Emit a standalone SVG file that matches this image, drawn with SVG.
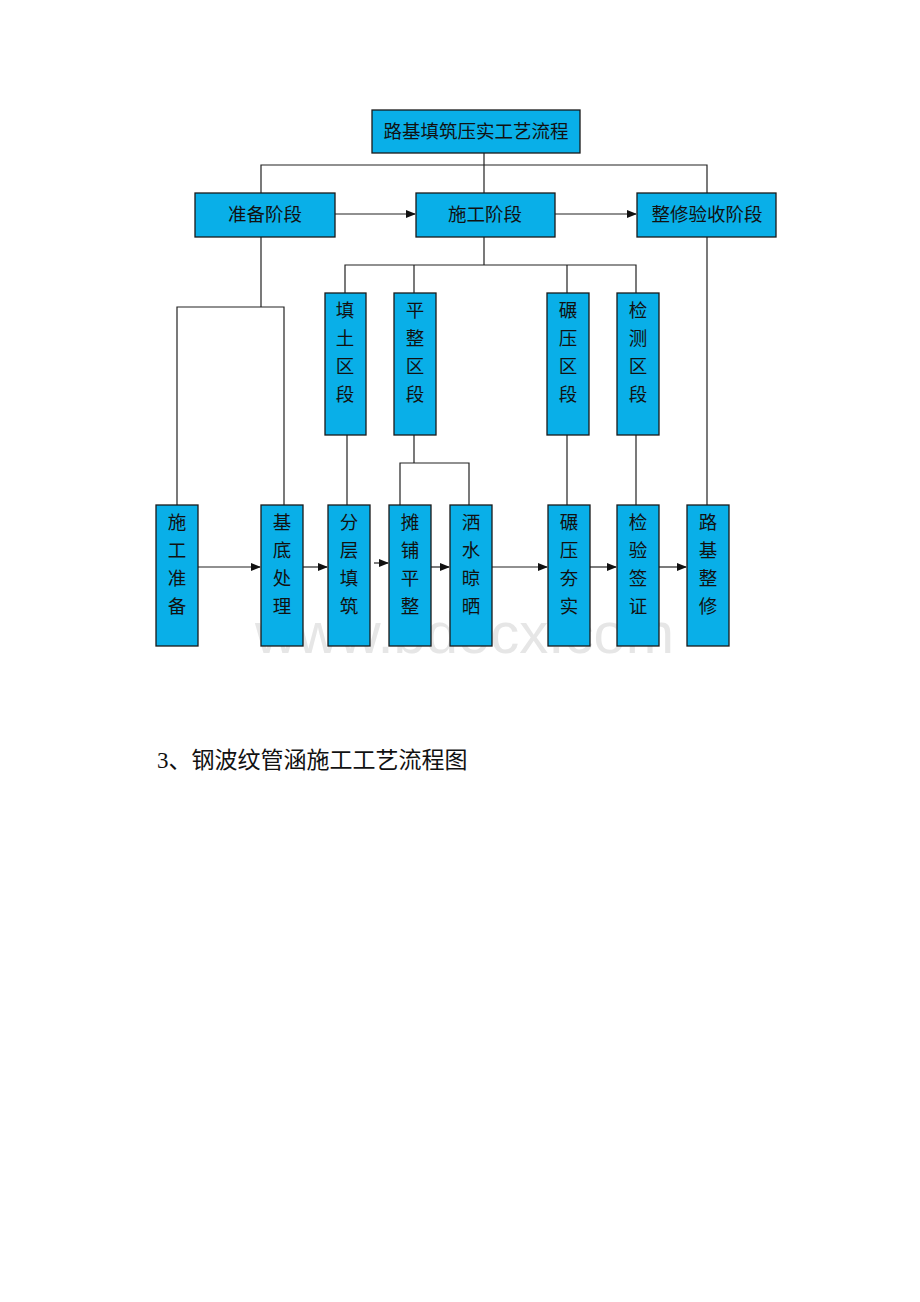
<svg xmlns="http://www.w3.org/2000/svg" width="920" height="1302" viewBox="0 0 920 1302">
<style>
.box{fill:#09afe8;stroke:#1a1a1a;stroke-width:1.3}
.t{font-family:"Noto Sans CJK SC","Noto Sans",sans-serif;font-size:18.5px;fill:#111;text-anchor:middle}
.ln{stroke:#222;stroke-width:1.2;fill:none}
.wm{font-family:"Liberation Sans",Arial,sans-serif;font-size:58px;fill:#e6e6e6}
.cap{font-family:"Liberation Serif","Noto Sans CJK SC",serif;font-size:23px;fill:#111}
</style>
<defs>
<marker id="ah" markerWidth="10" markerHeight="8" refX="9" refY="4" orient="auto" markerUnits="userSpaceOnUse">
<path d="M0,0 L10,4 L0,8 z" fill="#111"/>
</marker>
</defs>
<rect width="920" height="1302" fill="#fff"/>
<text class="wm" x="255" y="653">www.bdocx.com</text>
<g id="connectors">
<path class="ln" d="M484,153 V194 M261,193 V165 H707 V193"/>
<line class="ln" x1="335" y1="214" x2="415" y2="214" marker-end="url(#ah)"/>
<line class="ln" x1="555" y1="214" x2="636" y2="214" marker-end="url(#ah)"/>
<path class="ln" d="M484,237 V265 M345,293 V265 H636 V293 M414,265 V293 M567,265 V293"/>
<path class="ln" d="M261,237 V307 M177,505 V307 H284 V505"/>
<path class="ln" d="M347,435 V505 M414,435 V463 M400,505 V463 H469 V505 M567,435 V505 M636,435 V505 M707,237 V505"/>
<line class="ln" x1="198" y1="567" x2="260" y2="567" marker-end="url(#ah)"/>
<line class="ln" x1="303" y1="567" x2="327" y2="567" marker-end="url(#ah)"/>
<line class="ln" x1="374" y1="563" x2="388" y2="563" marker-end="url(#ah)"/>
<line class="ln" x1="431" y1="567" x2="449" y2="567" marker-end="url(#ah)"/>
<line class="ln" x1="492" y1="567" x2="547" y2="567" marker-end="url(#ah)"/>
<line class="ln" x1="590" y1="567" x2="616" y2="567" marker-end="url(#ah)"/>
<line class="ln" x1="659" y1="567" x2="686" y2="567" marker-end="url(#ah)"/>
</g>
<g id="n-title"><rect class="box" x="372" y="110" width="208" height="43"/><text class="t" x="476" y="138">路基填筑压实工艺流程</text></g>
<g id="n-prep"><rect class="box" x="195" y="193" width="140" height="44"/><text class="t" x="265" y="221">准备阶段</text></g>
<g id="n-build"><rect class="box" x="416" y="193" width="139" height="44"/><text class="t" x="485" y="221">施工阶段</text></g>
<g id="n-finish"><rect class="box" x="637" y="193" width="139" height="44"/><text class="t" x="707" y="221">整修验收阶段</text></g>
<g id="n-fill"><rect class="box" x="325" y="293" width="41" height="142"/><text class="t"><tspan x="345" y="317">填</tspan><tspan x="345" y="345">土</tspan><tspan x="345" y="373">区</tspan><tspan x="345" y="401">段</tspan></text></g>
<g id="n-level"><rect class="box" x="394" y="293" width="42" height="142"/><text class="t"><tspan x="415" y="317">平</tspan><tspan x="415" y="345">整</tspan><tspan x="415" y="373">区</tspan><tspan x="415" y="401">段</tspan></text></g>
<g id="n-roll"><rect class="box" x="547" y="293" width="42" height="142"/><text class="t"><tspan x="568" y="317">碾</tspan><tspan x="568" y="345">压</tspan><tspan x="568" y="373">区</tspan><tspan x="568" y="401">段</tspan></text></g>
<g id="n-test"><rect class="box" x="617" y="293" width="42" height="142"/><text class="t"><tspan x="638" y="317">检</tspan><tspan x="638" y="345">测</tspan><tspan x="638" y="373">区</tspan><tspan x="638" y="401">段</tspan></text></g>
<g id="b1"><rect class="box" x="156" y="505" width="42" height="141"/><text class="t"><tspan x="177" y="529">施</tspan><tspan x="177" y="557">工</tspan><tspan x="177" y="585">准</tspan><tspan x="177" y="613">备</tspan></text></g>
<g id="b2"><rect class="box" x="261" y="505" width="42" height="141"/><text class="t"><tspan x="282" y="529">基</tspan><tspan x="282" y="557">底</tspan><tspan x="282" y="585">处</tspan><tspan x="282" y="613">理</tspan></text></g>
<g id="b3"><rect class="box" x="328" y="505" width="42" height="141"/><text class="t"><tspan x="349" y="529">分</tspan><tspan x="349" y="557">层</tspan><tspan x="349" y="585">填</tspan><tspan x="349" y="613">筑</tspan></text></g>
<g id="b4"><rect class="box" x="389" y="505" width="42" height="141"/><text class="t"><tspan x="410" y="529">摊</tspan><tspan x="410" y="557">铺</tspan><tspan x="410" y="585">平</tspan><tspan x="410" y="613">整</tspan></text></g>
<g id="b5"><rect class="box" x="450" y="505" width="42" height="141"/><text class="t"><tspan x="471" y="529">洒</tspan><tspan x="471" y="557">水</tspan><tspan x="471" y="585">晾</tspan><tspan x="471" y="613">晒</tspan></text></g>
<g id="b6"><rect class="box" x="548" y="505" width="42" height="141"/><text class="t"><tspan x="569" y="529">碾</tspan><tspan x="569" y="557">压</tspan><tspan x="569" y="585">夯</tspan><tspan x="569" y="613">实</tspan></text></g>
<g id="b7"><rect class="box" x="617" y="505" width="42" height="141"/><text class="t"><tspan x="638" y="529">检</tspan><tspan x="638" y="557">验</tspan><tspan x="638" y="585">签</tspan><tspan x="638" y="613">证</tspan></text></g>
<g id="b8"><rect class="box" x="687" y="505" width="42" height="141"/><text class="t"><tspan x="708" y="529">路</tspan><tspan x="708" y="557">基</tspan><tspan x="708" y="585">整</tspan><tspan x="708" y="613">修</tspan></text></g>
<text class="cap" x="157" y="768">3、钢波纹管涵施工工艺流程图</text>
</svg>
